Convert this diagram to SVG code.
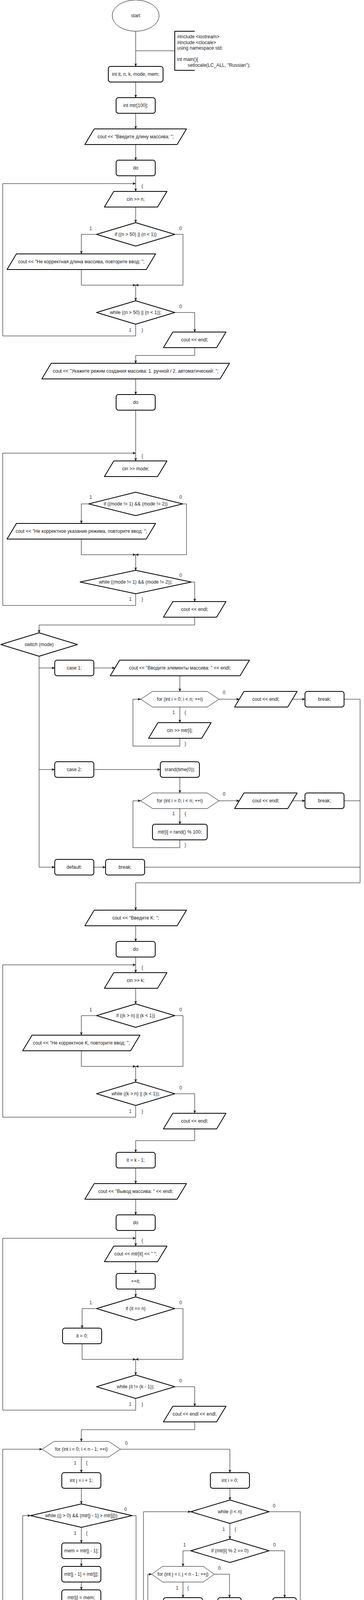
<svg xmlns="http://www.w3.org/2000/svg" width="931" height="5702" viewBox="0 0 931 5702">
<style>
.n{fill:#fff;stroke:#000;stroke-width:2;stroke-linejoin:round}
.h{fill:#fff;stroke:#000;stroke-width:1}
.e{fill:none;stroke:#000;stroke-width:1}
.ea{fill:none;stroke:#000;stroke-width:1;marker-end:url(#arr)}
text{font-family:"Liberation Sans",Arial,Helvetica,sans-serif;font-size:12px;dominant-baseline:central}
.t{fill:#1a1a1a;text-anchor:middle}
.l{fill:#333;text-anchor:middle}
.c{fill:#1a1a1a;text-anchor:start}
</style>
<defs>
<marker id="arr" markerUnits="userSpaceOnUse" viewBox="0 0 8 8" markerWidth="8" markerHeight="8" refX="8" refY="4" orient="auto">
<path d="M0,0.5 L8,4 L0,7.5 L2.5,4 z" fill="#000"/>
</marker>
</defs>
<rect width="931" height="5702" fill="#fff"/>

<g id="connectors">
<path class="ea" d="M347,80 V170"/>
<path class="e" d="M347,130 H447"/>
<path class="ea" d="M347,210 V250"/>
<path class="ea" d="M347,290 V330"/>
<path class="ea" d="M347,370 V410"/>
<path class="ea" d="M347,450 V490"/>
<path class="ea" d="M347,530 V570"/>
<path class="ea" d="M247,600 H208 V650"/>
<path class="ea" d="M447,600 H468 V730 H347"/>
<path class="ea" d="M208,690 V730 H347"/>
<path class="ea" d="M347,730 V770"/>
<path class="ea" d="M447,800 H498 V850"/>
<path class="ea" d="M347,830 V860 H7 V470 H347"/>
<path class="ea" d="M498,890 V910 H347 V930"/>
<path class="ea" d="M347,970 V1010"/>
<path class="ea" d="M347,1050 V1180"/>
<path class="ea" d="M227,1290 H208 V1340"/>
<path class="ea" d="M467,1290 H477 V1420 H347"/>
<path class="ea" d="M208,1380 V1420 H347"/>
<path class="ea" d="M347,1420 V1460"/>
<path class="ea" d="M489,1490 H498 V1540"/>
<path class="ea" d="M347,1520 V1550 H7 V1160 H347"/>
<path class="ea" d="M498,1580 V1600 H100 V1620"/>
<path class="ea" d="M100,1680 V2220 H140"/>
<path class="ea" d="M100,1710 H140"/>
<path class="ea" d="M100,1970 H140"/>
<path class="ea" d="M240,1710 H294"/>
<path class="ea" d="M460,1730 V1770"/>
<path class="ea" d="M560,1790 H612"/>
<path class="ea" d="M748,1790 H780"/>
<path class="ea" d="M880,1790 H921 V2260 H347 V2330"/>
<path class="ea" d="M460,1810 V1850"/>
<path class="ea" d="M460,1890 V1910 H340 V1790 H360"/>
<path class="ea" d="M240,1970 H410"/>
<path class="ea" d="M460,1990 V2030"/>
<path class="ea" d="M560,2050 H612"/>
<path class="ea" d="M748,2050 H780"/>
<path class="e" d="M880,2050 H921"/>
<path class="ea" d="M460,2070 V2110"/>
<path class="ea" d="M460,2150 V2170 H340 V2050 H360"/>
<path class="ea" d="M240,2220 H270"/>
<path class="e" d="M370,2220 H921"/>

<path class="ea" d="M347,2370 V2410"/>
<path class="ea" d="M347,2450 V2490"/>
<path class="ea" d="M347,2530 V2570"/>
<path class="ea" d="M247,2600 H208 V2650"/>
<path class="ea" d="M447,2600 H468 V2730 H347"/>
<path class="ea" d="M208,2690 V2730 H347"/>
<path class="ea" d="M347,2730 V2770"/>
<path class="ea" d="M447,2800 H498 V2850"/>
<path class="ea" d="M347,2830 V2860 H7 V2470 H347"/>
<path class="ea" d="M498,2890 V2920 H347 V2950"/>
<path class="ea" d="M347,2990 V3030"/>
<path class="ea" d="M347,3070 V3110"/>
<path class="ea" d="M347,3150 V3190"/>
<path class="ea" d="M347,3230 V3260"/>
<path class="ea" d="M347,3300 V3320"/>
<path class="ea" d="M247,3350 H210 V3400"/>
<path class="ea" d="M447,3350 H468 V3480 H347"/>
<path class="ea" d="M210,3440 V3480 H347"/>
<path class="ea" d="M347,3480 V3520"/>
<path class="ea" d="M447,3550 H498 V3600"/>
<path class="ea" d="M347,3580 V3610 H7 V3170 H347"/>
<path class="ea" d="M498,3640 V3660 H208 V3690"/>
<path class="ea" d="M308,3710 H588 V3770"/>
<path class="ea" d="M208,3730 V3770"/>
<path class="ea" d="M208,3810 V3850"/>
<path class="ea" d="M208,3910 V3950"/>
<path class="ea" d="M208,3990 V4010"/>
<path class="ea" d="M208,4050 V4070"/>
<path class="ea" d="M208,4110 V4130"/>
<path class="ea" d="M208,4170 V4190 H58 V3880 H78"/>
<path class="ea" d="M338,3880 H348 V4210 H7 V3710 H108"/>
<path class="ea" d="M588,3810 V3840"/>
<path class="ea" d="M688,3870 H768 V4240 H347 V4280"/>
<path class="ea" d="M588,3900 V3940"/>
<path class="ea" d="M488,3970 H468 V4010"/>
<path class="ea" d="M688,3970 H728 V4090"/>
<path class="ea" d="M548,4030 H587 V4090"/>
<path class="ea" d="M468,4050 V4090"/>
<path class="ea" d="M468,4130 V4150 H378 V4030 H388"/>
<path class="ea" d="M728,4130 V4160 H588"/>
<path class="ea" d="M587,4130 V4200 H367 V3870 H488"/>

<path class="ea" d="M347,4320 V4360"/>
<path class="ea" d="M347,4400 V4440"/>
<path class="ea" d="M347,4480 V4520"/>
<path class="ea" d="M247,4550 H208 V4600"/>
<path class="ea" d="M447,4550 H468 V4680 H347"/>
<path class="ea" d="M208,4640 V4680 H347"/>
<path class="ea" d="M347,4680 V4720"/>
<path class="ea" d="M447,4750 H498 V4800"/>
<path class="ea" d="M347,4780 V4810 H7 V4420 H347"/>
<path class="ea" d="M498,4840 V4870 H347 V4900"/>
<path class="ea" d="M347,4940 V4980"/>
<path class="ea" d="M347,5020 V5060"/>
<path class="ea" d="M347,5100 V5140"/>
<path class="ea" d="M347,5180 V5210"/>
<path class="ea" d="M347,5250 V5270"/>
<path class="ea" d="M247,5300 H210 V5350"/>
<path class="ea" d="M447,5300 H468 V5430 H347"/>
<path class="ea" d="M210,5390 V5430 H347"/>
<path class="ea" d="M347,5430 V5470"/>
<path class="ea" d="M447,5500 H498 V5550"/>
<path class="ea" d="M347,5530 V5560 H7 V5120 H347"/>
<path class="ea" d="M498,5590 V5650"/>
</g>

<g id="edge-labels">
<text class="l" x="364" y="476">{</text>
<text class="l" x="232" y="585">1</text><text class="l" x="462" y="585">0</text>
<text class="l" x="462" y="785">0</text><text class="l" x="333" y="845">1</text><text class="l" x="364" y="845">}</text>
<text class="l" x="364" y="1167">{</text>
<text class="l" x="232" y="1273">1</text><text class="l" x="462" y="1273">0</text>
<text class="l" x="462" y="1473">0</text><text class="l" x="333" y="1534">1</text><text class="l" x="364" y="1534">}</text>
<text class="l" x="573" y="1773">0</text><text class="l" x="444" y="1824">1</text><text class="l" x="474" y="1824">{</text><text class="l" x="474" y="1904">}</text>
<text class="l" x="573" y="2033">0</text><text class="l" x="444" y="2083">1</text><text class="l" x="474" y="2083">{</text><text class="l" x="474" y="2163">}</text>
<text class="l" x="364" y="2477">{</text>
<text class="l" x="232" y="2585">1</text><text class="l" x="462" y="2585">0</text>
<text class="l" x="462" y="2785">0</text><text class="l" x="333" y="2845">1</text><text class="l" x="364" y="2845">}</text>
<text class="l" x="364" y="3176">{</text>
<text class="l" x="232" y="3335">1</text><text class="l" x="462" y="3335">0</text>
<text class="l" x="462" y="3535">0</text><text class="l" x="333" y="3595">1</text><text class="l" x="364" y="3595">}</text>
<text class="l" x="323" y="3695">0</text><text class="l" x="192" y="3745">1</text><text class="l" x="222" y="3745">{</text>
<text class="l" x="321" y="3864">0</text><text class="l" x="192" y="3925">1</text><text class="l" x="222" y="3925">{</text><text class="l" x="223" y="4185">}</text><text class="l" x="355" y="4195">}</text>
<text class="l" x="701" y="3855">0</text><text class="l" x="572" y="3915">1</text><text class="l" x="602" y="3915">{</text>
<text class="l" x="472" y="3955">1</text><text class="l" x="702" y="3955">0</text>
<text class="l" x="561" y="4015">0</text><text class="l" x="453" y="4065">1</text><text class="l" x="481" y="4065">{</text><text class="l" x="481" y="4145">}</text>
<text class="l" x="364" y="4426">{</text>
<text class="l" x="232" y="4535">1</text><text class="l" x="462" y="4535">0</text>
<text class="l" x="462" y="4735">0</text><text class="l" x="333" y="4795">1</text><text class="l" x="364" y="4795">}</text>
<text class="l" x="364" y="5126">{</text>
<text class="l" x="232" y="5285">1</text><text class="l" x="462" y="5285">0</text>
<text class="l" x="462" y="5485">0</text><text class="l" x="333" y="5545">1</text><text class="l" x="364" y="5545">}</text>
<text class="l" x="553" y="5675">}</text>
</g>

<g id="n_start"><ellipse class="h" cx="347" cy="40" rx="60" ry="40"/><text class="t" x="347" y="40">start</text></g>
<g id="n_note"><path d="M498,80 H447 V180 H498" fill="none" stroke="#000" stroke-width="2"/>
<text class="c" x="453" y="94">#include &lt;iostream&gt;</text>
<text class="c" x="453" y="109">#include &lt;clocale&gt;</text>
<text class="c" x="453" y="123">using namespace std;</text>
<text class="c" x="453" y="152">int main(){</text>
<text class="c" x="480" y="167">setlocale(LC_ALL, "Russian");</text></g>
<g id="n_vars"><rect class="n" x="277" y="170" width="140" height="40" rx="6"/><text class="t" x="347" y="190">int it, n, k, mode, mem;</text></g>
<g id="n_arr"><rect class="n" x="297" y="250" width="100" height="40" rx="6"/><text class="t" x="347" y="270">int mtr[100];</text></g>
<g id="n_p1"><polygon class="n" points="241,330 477,330 453,370 217,370"/><text class="t" x="347" y="350">cout &lt;&lt; "Введите длину массива: ";</text></g>
<g id="n_do1"><rect class="n" x="297" y="410" width="100" height="40" rx="6"/><text class="t" x="347" y="430">do</text></g>
<g id="n_cin1"><polygon class="n" points="291,490 427,490 403,530 267,530"/><text class="t" x="347" y="510">cin &gt;&gt; n;</text></g>
<g id="n_if1"><polygon class="n" points="347,570 447,600 347,630 247,600"/><text class="t" x="347" y="600">if ((n &gt; 50) || (n &lt; 1))</text></g>
<g id="n_err1"><polygon class="n" points="42,650 398,650 374,690 18,690"/><text class="t" x="208" y="670">cout &lt;&lt; "Не корректная длина массива, повторите ввод: ";</text></g>
<g id="n_wh1"><polygon class="n" points="347,770 447,800 347,830 247,800"/><text class="t" x="347" y="800">while ((n &gt; 50) || (n &lt; 1));</text></g>
<g id="n_endl1"><polygon class="n" points="442,850 578,850 554,890 418,890"/><text class="t" x="498" y="870">cout &lt;&lt; endl;</text></g>
<g id="n_p2"><polygon class="n" points="131,930 587,930 563,970 107,970"/><text class="t" x="347" y="950">cout &lt;&lt; "Укажите режим создания массива: 1. ручной / 2. автоматический: ";</text></g>
<g id="n_do2"><rect class="n" x="297" y="1010" width="100" height="40" rx="6"/><text class="t" x="347" y="1030">do</text></g>
<g id="n_cin2"><polygon class="n" points="291,1180 427,1180 403,1220 267,1220"/><text class="t" x="347" y="1200">cin &gt;&gt; mode;</text></g>
<g id="n_if2"><polygon class="n" points="347,1260 467,1290 347,1320 227,1290"/><text class="t" x="347" y="1290">if ((mode != 1) &amp;&amp; (mode != 2))</text></g>
<g id="n_err2"><polygon class="n" points="42,1340 398,1340 374,1380 18,1380"/><text class="t" x="208" y="1360">cout &lt;&lt; "Не корректное указание режима, повторите ввод: ";</text></g>
<g id="n_wh2"><polygon class="n" points="347,1460 489,1490 347,1520 205,1490"/><text class="t" x="347" y="1490">while ((mode != 1) &amp;&amp; (mode != 2));</text></g>
<g id="n_endl2"><polygon class="n" points="442,1540 578,1540 554,1580 418,1580"/><text class="t" x="498" y="1560">cout &lt;&lt; endl;</text></g>
<g id="n_sw"><polygon class="n" points="100,1620 198,1650 100,1680 2,1650"/><text class="t" x="100" y="1650">switch (mode)</text></g>
<g id="n_case1"><rect class="n" x="140" y="1690" width="100" height="40" rx="6"/><text class="t" x="190" y="1710">case 1:</text></g>
<g id="n_p3"><polygon class="n" points="306,1690 638,1690 614,1730 282,1730"/><text class="t" x="460" y="1710">cout &lt;&lt; "Вводите элементы массива: " &lt;&lt; endl;</text></g>
<g id="n_for1"><polygon class="h" points="390,1770 530,1770 560,1790 530,1810 390,1810 360,1790"/><text class="t" x="460" y="1790">for (int i = 0; i &lt; n; ++i)</text></g>
<g id="n_endl3"><polygon class="n" points="624,1770 760,1770 736,1810 600,1810"/><text class="t" x="680" y="1790">cout &lt;&lt; endl;</text></g>
<g id="n_brk1"><rect class="n" x="780" y="1770" width="100" height="40" rx="6"/><text class="t" x="830" y="1790">break;</text></g>
<g id="n_cin3"><polygon class="n" points="404,1850 540,1850 516,1890 380,1890"/><text class="t" x="460" y="1870">cin &gt;&gt; mtr[i];</text></g>
<g id="n_case2"><rect class="n" x="140" y="1950" width="100" height="40" rx="6"/><text class="t" x="190" y="1970">case 2:</text></g>
<g id="n_srand"><rect class="n" x="410" y="1950" width="100" height="40" rx="6"/><text class="t" x="460" y="1970">srand(time(0));</text></g>
<g id="n_for2"><polygon class="h" points="390,2030 530,2030 560,2050 530,2070 390,2070 360,2050"/><text class="t" x="460" y="2050">for (int i = 0; i &lt; n; ++i)</text></g>
<g id="n_endl4"><polygon class="n" points="624,2030 760,2030 736,2070 600,2070"/><text class="t" x="680" y="2050">cout &lt;&lt; endl;</text></g>
<g id="n_brk2"><rect class="n" x="780" y="2030" width="100" height="40" rx="6"/><text class="t" x="830" y="2050">break;</text></g>
<g id="n_rand"><rect class="n" x="390" y="2110" width="140" height="40" rx="6"/><text class="t" x="460" y="2130">mtr[i] = rand() % 100;</text></g>
<g id="n_def"><rect class="n" x="140" y="2200" width="100" height="40" rx="6"/><text class="t" x="190" y="2220">default:</text></g>
<g id="n_brk3"><rect class="n" x="270" y="2200" width="100" height="40" rx="6"/><text class="t" x="320" y="2220">break;</text></g>

<g id="n_p4"><polygon class="n" points="241,2330 477,2330 453,2370 217,2370"/><text class="t" x="347" y="2350">cout &lt;&lt; "Введите K: ";</text></g>
<g id="n_do3"><rect class="n" x="297" y="2410" width="100" height="40" rx="6"/><text class="t" x="347" y="2430">do</text></g>
<g id="n_cin4"><polygon class="n" points="291,2490 427,2490 403,2530 267,2530"/><text class="t" x="347" y="2510">cin &gt;&gt; k;</text></g>
<g id="n_if3"><polygon class="n" points="347,2570 447,2600 347,2630 247,2600"/><text class="t" x="347" y="2600">if ((k &gt; n) || (k &lt; 1))</text></g>
<g id="n_err3"><polygon class="n" points="82,2650 358,2650 334,2690 58,2690"/><text class="t" x="208" y="2670">cout &lt;&lt; "Не корректное K, повторите ввод: ";</text></g>
<g id="n_wh3"><polygon class="n" points="347,2770 447,2800 347,2830 247,2800"/><text class="t" x="347" y="2800">while ((k &gt; n) || (k &lt; 1));</text></g>
<g id="n_endl5"><polygon class="n" points="442,2850 578,2850 554,2890 418,2890"/><text class="t" x="498" y="2870">cout &lt;&lt; endl;</text></g>
<g id="n_it1"><rect class="n" x="297" y="2950" width="100" height="40" rx="6"/><text class="t" x="347" y="2970">it = k - 1;</text></g>
<g id="n_p5"><polygon class="n" points="241,3030 477,3030 453,3070 217,3070"/><text class="t" x="347" y="3050">cout &lt;&lt; "Вывод массива: " &lt;&lt; endl;</text></g>
<g id="n_do4"><rect class="n" x="297" y="3110" width="100" height="40" rx="6"/><text class="t" x="347" y="3130">do</text></g>
<g id="n_out1"><polygon class="n" points="291,3190 427,3190 403,3230 267,3230"/><text class="t" x="347" y="3210">cout &lt;&lt; mtr[it] &lt;&lt; " ";</text></g>
<g id="n_inc1"><rect class="n" x="297" y="3260" width="100" height="40" rx="6"/><text class="t" x="347" y="3280">++it;</text></g>
<g id="n_if4"><polygon class="n" points="347,3320 447,3350 347,3380 247,3350"/><text class="t" x="347" y="3350">if (it == n)</text></g>
<g id="n_it0a"><rect class="n" x="160" y="3400" width="100" height="40" rx="6"/><text class="t" x="210" y="3420">it = 0;</text></g>
<g id="n_wh4"><polygon class="n" points="347,3520 447,3550 347,3580 247,3550"/><text class="t" x="347" y="3550">while (it != (k - 1));</text></g>
<g id="n_endl6"><polygon class="n" points="442,3600 578,3600 554,3640 418,3640"/><text class="t" x="498" y="3620">cout &lt;&lt; endl &lt;&lt; endl;</text></g>
<g id="n_forA"><polygon class="h" points="138,3690 278,3690 308,3710 278,3730 138,3730 108,3710"/><text class="t" x="208" y="3710">for (int i = 0; i &lt; n - 1; ++i)</text></g>
<g id="n_j"><rect class="n" x="158" y="3770" width="100" height="40" rx="6"/><text class="t" x="208" y="3790">int j = i + 1;</text></g>
<g id="n_whj"><polygon class="n" points="208,3850 338,3880 208,3910 78,3880"/><text class="t" x="208" y="3880">while ((j &gt; 0) &amp;&amp; (mtr[j - 1] &gt; mtr[j]))</text></g>
<g id="n_mem"><rect class="n" x="158" y="3950" width="100" height="40" rx="6"/><text class="t" x="208" y="3970">mem = mtr[j - 1];</text></g>
<g id="n_sw1"><rect class="n" x="158" y="4010" width="100" height="40" rx="6"/><text class="t" x="208" y="4030">mtr[j - 1] = mtr[j];</text></g>
<g id="n_sw2"><rect class="n" x="158" y="4070" width="100" height="40" rx="6"/><text class="t" x="208" y="4090">mtr[j] = mem;</text></g>
<g id="n_decj"><rect class="n" x="158" y="4130" width="100" height="40" rx="6"/><text class="t" x="208" y="4150">--j;</text></g>
<g id="n_i0"><rect class="n" x="538" y="3770" width="100" height="40" rx="6"/><text class="t" x="588" y="3790">int i = 0;</text></g>
<g id="n_whi"><polygon class="n" points="588,3840 688,3870 588,3900 488,3870"/><text class="t" x="588" y="3870">while (i &lt; n)</text></g>
<g id="n_if5"><polygon class="n" points="588,3940 688,3970 588,4000 488,3970"/><text class="t" x="588" y="3970">if (mtr[i] % 2 == 0)</text></g>
<g id="n_forB"><polygon class="h" points="416,4010 520,4010 548,4030 520,4050 416,4050 388,4030"/><text class="t" x="468" y="4030">for (int j = i; j &lt; n - 1; ++j)</text></g>
<g id="n_shift"><rect class="n" x="418" y="4090" width="100" height="40" rx="6"/><text class="t" x="468" y="4110">mtr[j] = mtr[j + 1];</text></g>
<g id="n_decn"><rect class="n" x="557" y="4090" width="60" height="40" rx="6"/><text class="t" x="587" y="4110">--n;</text></g>
<g id="n_inci"><rect class="n" x="698" y="4090" width="60" height="40" rx="6"/><text class="t" x="728" y="4110">++i;</text></g>

<g id="n_p6"><polygon class="n" points="241,4280 477,4280 453,4320 217,4320"/><text class="t" x="347" y="4300">cout &lt;&lt; "Введите K: ";</text></g>
<g id="n_do5"><rect class="n" x="297" y="4360" width="100" height="40" rx="6"/><text class="t" x="347" y="4380">do</text></g>
<g id="n_cin5"><polygon class="n" points="291,4440 427,4440 403,4480 267,4480"/><text class="t" x="347" y="4460">cin &gt;&gt; k;</text></g>
<g id="n_if6"><polygon class="n" points="347,4520 447,4550 347,4580 247,4550"/><text class="t" x="347" y="4550">if ((k &gt; n) || (k &lt; 1))</text></g>
<g id="n_err4"><polygon class="n" points="82,4600 358,4600 334,4640 58,4640"/><text class="t" x="208" y="4620">cout &lt;&lt; "Не корректное K, повторите ввод: ";</text></g>
<g id="n_wh5"><polygon class="n" points="347,4720 447,4750 347,4780 247,4750"/><text class="t" x="347" y="4750">while ((k &gt; n) || (k &lt; 1));</text></g>
<g id="n_endl7"><polygon class="n" points="442,4800 578,4800 554,4840 418,4840"/><text class="t" x="498" y="4820">cout &lt;&lt; endl;</text></g>
<g id="n_it2"><rect class="n" x="297" y="4900" width="100" height="40" rx="6"/><text class="t" x="347" y="4920">it = k - 1;</text></g>
<g id="n_p7"><polygon class="n" points="241,4980 477,4980 453,5020 217,5020"/><text class="t" x="347" y="5000">cout &lt;&lt; "Вывод массива: " &lt;&lt; endl;</text></g>
<g id="n_do6"><rect class="n" x="297" y="5060" width="100" height="40" rx="6"/><text class="t" x="347" y="5080">do</text></g>
<g id="n_out2"><polygon class="n" points="291,5140 427,5140 403,5180 267,5180"/><text class="t" x="347" y="5160">cout &lt;&lt; mtr[it] &lt;&lt; " ";</text></g>
<g id="n_inc2"><rect class="n" x="297" y="5210" width="100" height="40" rx="6"/><text class="t" x="347" y="5230">++it;</text></g>
<g id="n_if7"><polygon class="n" points="347,5270 447,5300 347,5330 247,5300"/><text class="t" x="347" y="5300">if (it == n)</text></g>
<g id="n_it0b"><rect class="n" x="160" y="5350" width="100" height="40" rx="6"/><text class="t" x="210" y="5370">it = 0;</text></g>
<g id="n_wh6"><polygon class="n" points="347,5470 447,5500 347,5530 247,5500"/><text class="t" x="347" y="5500">while (it != (k - 1));</text></g>
<g id="n_endl8"><polygon class="n" points="442,5550 578,5550 554,5590 418,5590"/><text class="t" x="498" y="5570">cout &lt;&lt; endl &lt;&lt; endl;</text></g>
<g id="n_ret"><ellipse class="n" cx="498" cy="5675" rx="40" ry="25"/><text class="t" x="498" y="5675">return 0;</text></g>
</svg>
